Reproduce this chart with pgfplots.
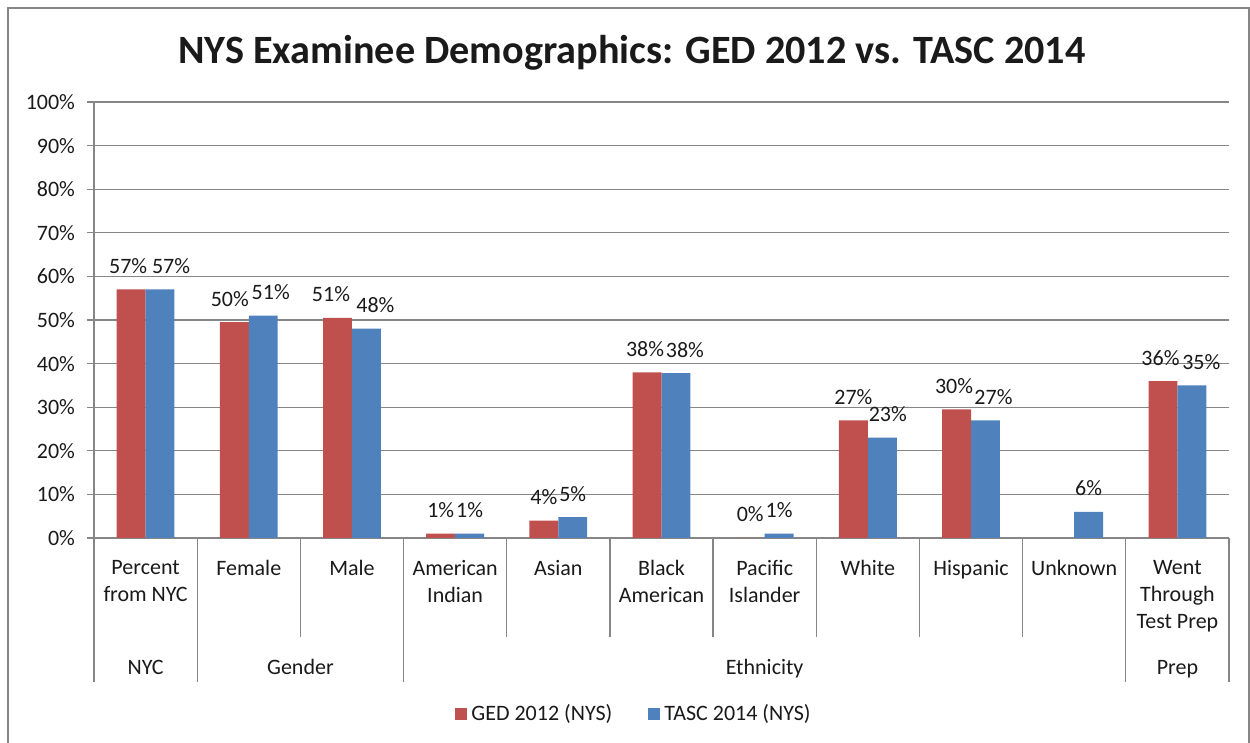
\documentclass[border=0pt]{standalone}
\usepackage{fontspec}
\setmainfont{Carlito}
\usepackage{pgfplots}
\pgfplotsset{compat=1.18}
\usepackage{pgfplotstable}

\definecolor{gedred}{HTML}{C0504D}
\definecolor{tascblue}{HTML}{4F81BD}
\definecolor{gridgray}{HTML}{868686}
\definecolor{txt}{HTML}{1A1A1A}

% x = category index, y = value (%), lab = printed label, dx = label nudge (pt)
\pgfplotstableread{
x y lab dx
0 57 57 -1.5
1 49.5 50 -2.25
2 50.5 51 -3.25
3 1 1 0
4 4 4 0
5 38 38 -1
6 0 0 0
7 27 27 0
8 29.5 30 -1.25
10 36 36 -1.25
}\ged

\pgfplotstableread{
x y lab dx
0 57 57 5.5
1 51 51 3.75
2 48 48 4.5
3 1 1 0
4 4.8 5 0
5 37.8 38 4.5
6 1 1 0
7 23 23 2.75
8 27 27 4
9 6 6 0
10 35 35 4.75
}\tasc

\begin{document}
\begin{tikzpicture}[every node/.style={text=txt}]
\path[use as bounding box] (-47pt,-102.5pt) rectangle (578pt,269pt);
% chart frame
\draw[gridgray, line width=0.6pt] (-43pt,-110pt) rectangle (577.5pt,265pt);

\begin{axis}[
    scale only axis,
    width=567.5pt, height=218pt,
    xmin=-0.5, xmax=10.5,
    ymin=0, ymax=100,
    ybar=0pt, bar width=0.28,
    axis lines*=left,
    axis line style={gridgray, line width=0.6pt},
    ymajorgrids,
    grid style={gridgray, line width=0.6pt},
    tick align=outside,
    major tick length=3.5pt,
    ytick={0,10,...,100},
    yticklabel={\pgfmathprintnumber{\tick}\%},
    yticklabel style={xshift=-2.5pt},
    tick style={gridgray, line width=0.6pt},
    xtick={0,...,10},
    xtick style={draw=none},
    xticklabels={{Percent\\from NYC},Female,Male,{American\\Indian},Asian,{Black\\American},{Pacific\\Islander},White,Hispanic,Unknown,{Went\\Through\\Test Prep}},
    xticklabel style={align=center, anchor=north, inner sep=0pt, yshift=-7.5pt},
    ticklabel style={font=\fontsize{11}{13.5}\selectfont, text=txt},
    /pgf/number format/assume math mode=true,
    point meta=explicit symbolic,
    visualization depends on={\thisrow{dx} \as \dx},
    nodes near coords={\pgfplotspointmeta\%},
    every node near coord/.append style={font=\fontsize{11}{13}\selectfont, anchor=base, yshift=8pt, xshift=\dx pt, inner sep=0pt, text=txt},
    clip=false,
    legend columns=2,
    legend style={at={(0.4767,0)}, anchor=center, yshift=-88pt, draw=none,
        font=\fontsize{11}{13}\selectfont, text=txt,
        /tikz/every even column/.append style={column sep=16pt}},
    legend image code/.code={\fill[#1] (0pt,-3pt) rectangle (6pt,3pt);},
]
\addplot[fill=gedred, draw=none] table[x=x, y=y, meta=lab] {\ged};
\addlegendentry{GED 2012 (NYS)}
\addplot[fill=tascblue, draw=none] table[x=x, y=y, meta=lab] {\tasc};
\addlegendentry{TASC 2014 (NYS)}
\end{axis}

% category separators (one category = 51.5909pt)
\foreach \k in {2,4,5,6,7,8,9}
    \draw[gridgray, line width=0.6pt] (\k*51.5909pt,0) -- ++(0,-49.5pt);
\foreach \k in {0,1,3,10,11}
    \draw[gridgray, line width=0.6pt] (\k*51.5909pt,0) -- ++(0,-72pt);

% group labels
\begin{scope}[font=\fontsize{11}{13}\selectfont]
\node[anchor=base] at (25.8pt,-68.5pt) {NYC};
\node[anchor=base] at (103.2pt,-68.5pt) {Gender};
\node[anchor=base] at (335.3pt,-68.5pt) {Ethnicity};
\node[anchor=base] at (541.7pt,-68.5pt) {Prep};
\end{scope}

% title
\node[anchor=base, font=\fontsize{20.1}{24}\selectfont\bfseries] at (269pt,237pt)
    {NYS Examinee Demographics: GED 2012 vs. TASC 2014};
\end{tikzpicture}
\end{document}
